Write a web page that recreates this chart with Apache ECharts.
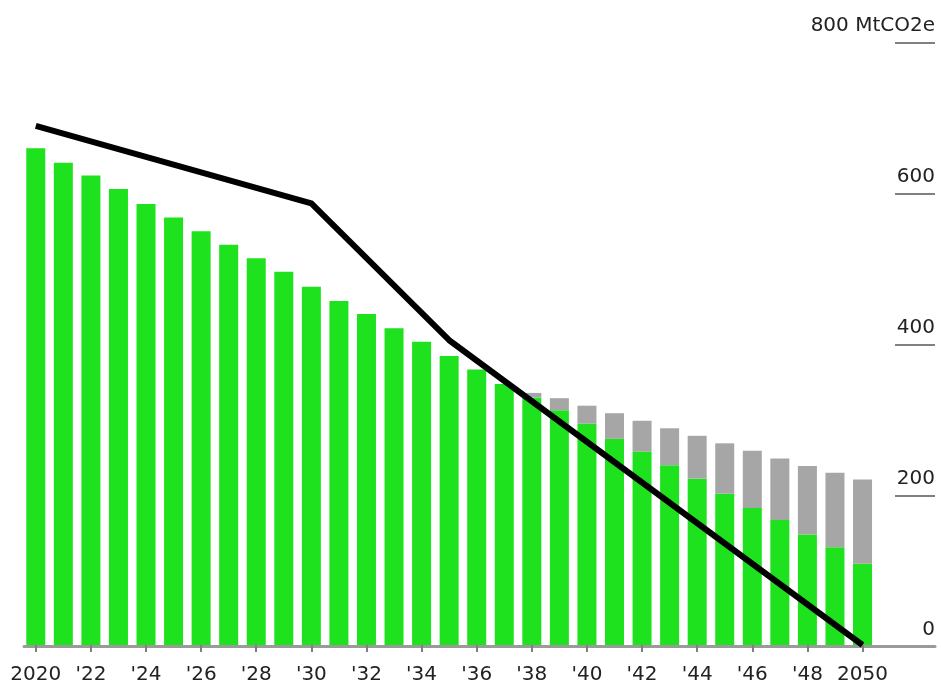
<!DOCTYPE html>
<html>
<head>
<meta charset="utf-8">
<script src="https://cdn.jsdelivr.net/npm/echarts@6/dist/echarts.min.js"></script>
<style>
  html, body { margin: 0; padding: 0; background: #ffffff; }
  #chart { width: 941px; height: 685px; }
</style>
</head>
<body>
<div id="chart"></div>
<script>
// Year categories, labelled every second year
const years = ['2020', "'21", "'22", "'23", "'24", "'25", "'26", "'27", "'28", "'29",
  "'30", "'31", "'32", "'33", "'34", "'35", "'36", "'37", "'38", "'39",
  "'40", "'41", "'42", "'43", "'44", "'45", "'46", "'47", "'48", "'49", '2050'];

// Projected emissions (MtCO2e), green part of each bar
const projected = [660, 641, 624, 606, 586, 568, 550, 532, 514, 496,
  476, 457, 440, 421, 403, 384, 366, 347, 329, 312,
  294, 274, 257, 239, 221, 201, 182, 166, 147, 130, 108];

// Additional emissions stacked on top (grey)
const additional = [0, 0, 0, 0, 0, 0, 0, 0, 0, 0,
  0, 0, 0, 0, 0, 0, 0, 0, 6, 16,
  24, 34, 41, 49, 57, 67, 76, 82, 91, 99, 112];

// Target pathway: only the corner years are given, the line joins them
const target = [690, null, null, null, null, null, null, null, null, null,
  587, null, null, null, null, 405, null, null, null, null,
  null, null, null, null, null, null, null, null, null, null, 0];

// Value axis
const yMin = 0;
const yMax = 800;
const yStep = 200;
const yUnit = 'MtCO2e';

const FONT = 'DejaVu Sans';
const TEXT = '#222222';

const chart = echarts.init(document.getElementById('chart'), null, { renderer: 'canvas' });

chart.setOption({
  animation: false,
  backgroundColor: '#ffffff',
  grid: [
    // bars and target line
    { left: 22, right: 64.7, top: 43, bottom: 38.3 },
    // full-width baseline
    { left: 24, right: 6, top: 43, bottom: 38.3 },
    // short value rules with their labels on the right
    { left: 895, right: 6, top: 43, bottom: 38.3 }
  ],
  xAxis: [
    {
      type: 'category',
      gridIndex: 0,
      data: years,
      axisLine: { show: false },
      axisTick: {
        show: true, alignWithLabel: true, interval: 1, length: 7,
        lineStyle: { color: '#808080', width: 2 }
      },
      axisLabel: {
        interval: 1, margin: 20,
        fontFamily: FONT, fontSize: 20, color: TEXT
      },
      splitLine: { show: false }
    },
    {
      type: 'value',
      gridIndex: 1,
      min: 0, max: 1,
      axisLine: { show: true, lineStyle: { color: '#9a9a9a', width: 3 } },
      axisTick: { show: false },
      axisLabel: { show: false },
      splitLine: { show: false }
    },
    {
      type: 'value',
      gridIndex: 2,
      min: 0, max: 1,
      show: false
    }
  ],
  yAxis: [
    {
      type: 'value',
      gridIndex: 0,
      min: yMin, max: yMax, interval: yStep,
      show: false
    },
    {
      type: 'value',
      gridIndex: 1,
      min: yMin, max: yMax, interval: yStep,
      show: false
    },
    {
      type: 'value',
      gridIndex: 2,
      position: 'right',
      min: yMin, max: yMax, interval: yStep,
      axisLine: { show: false },
      axisTick: { show: false },
      axisLabel: {
        inside: true, margin: 0,
        verticalAlign: 'bottom',
        padding: [0, 0, 7, 0],
        fontFamily: FONT, fontSize: 20, color: TEXT,
        formatter: v => (v === yMax ? v + ' ' + yUnit : String(v))
      },
      splitLine: { show: true, lineStyle: { color: '#808080', width: 2 } }
    }
  ],
  series: [
    {
      name: 'Projected',
      type: 'bar',
      xAxisIndex: 0, yAxisIndex: 0,
      stack: 'total',
      barWidth: 19,
      itemStyle: { color: '#1ee21e' },
      data: projected,
      z: 2
    },
    {
      name: 'Additional',
      type: 'bar',
      xAxisIndex: 0, yAxisIndex: 0,
      stack: 'total',
      barWidth: 19,
      itemStyle: { color: '#a6a6a6' },
      data: additional,
      z: 2
    },
    {
      name: 'Target',
      type: 'line',
      xAxisIndex: 0, yAxisIndex: 0,
      data: target,
      connectNulls: true,
      symbol: 'none',
      lineStyle: { color: '#000000', width: 6, cap: 'butt', join: 'round' },
      z: 5
    }
  ]
});
</script>
</body>
</html>
